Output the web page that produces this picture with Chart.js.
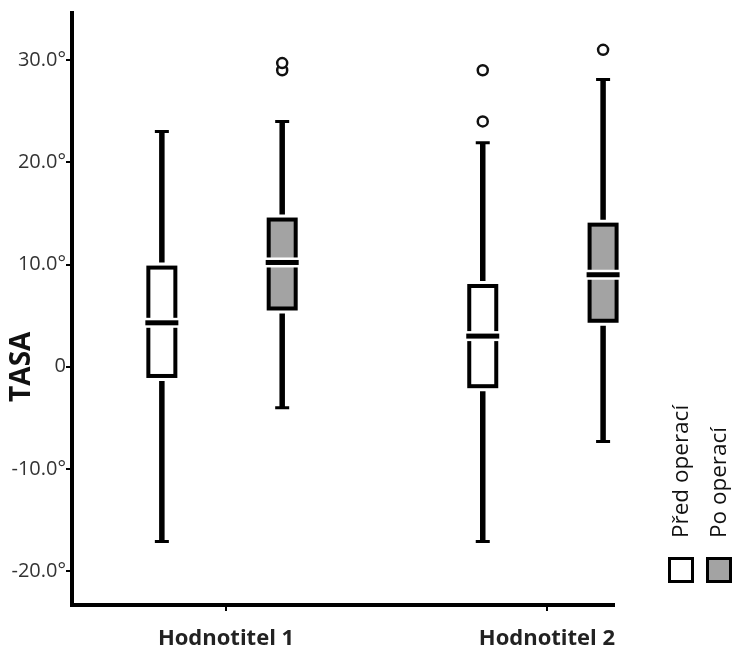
<!DOCTYPE html>
<html><head><meta charset="utf-8">
<script src="https://cdn.jsdelivr.net/npm/chart.js@4/dist/chart.umd.min.js"></script>
<style>html,body{margin:0;padding:0;background:#fff;} canvas{display:block;}</style>
</head><body>
<canvas id="c" width="736" height="649"></canvas>
<script>
// ---- data ----
const categories = ['Hodnotitel 1', 'Hodnotitel 2'];
const seriesNames = ['Před operací', 'Po operací'];
const predWhiskerLow  = [-17.1, -17.1];
const predQ1          = [-0.9, -1.9];
const predMedian      = [4.3, 3.0];
const predQ3          = [9.7, 7.9];
const predWhiskerHigh = [23.0, 21.9];
const predOutliers    = [[], [24.0, 29.0]];
const poWhiskerLow    = [-4.0, -7.3];
const poQ1            = [5.7, 4.5];
const poMedian        = [10.2, 9.0];
const poQ3            = [14.4, 13.9];
const poWhiskerHigh   = [24.0, 28.1];
const poOutliers      = [[29.0, 29.7], [31.0]];
const yTickValues = [-20, -10, 0, 10, 20, 30];
const yTickLabels = ['-20.0°', '-10.0°', '0', '10.0°', '20.0°', '30.0°'];
const yAxisTitle = 'TASA';

// ---- styles ----
const FONT = 'Open Sans';
const series = [
  {name: seriesNames[0], low: predWhiskerLow, q1: predQ1, med: predMedian, q3: predQ3, high: predWhiskerHigh, out: predOutliers, fill: '#ffffff', offset: -0.2},
  {name: seriesNames[1], low: poWhiskerLow, q1: poQ1, med: poMedian, q3: poQ3, high: poWhiskerHigh, out: poOutliers, fill: '#a3a3a3', offset: 0.175}
];

const outlierData = [];
series.forEach(s => s.out.forEach((arr, i) => arr.forEach(v => outlierData.push({x: i + 1 + s.offset, y: v}))));

const boxPlugin = {
  id: 'boxes',
  beforeDatasetsDraw(chart) {
    const {ctx, scales: {x, y}} = chart;
    const hw = 13.5;
    series.forEach(s => {
      categories.forEach((c, i) => {
        const cx = x.getPixelForValue(i + 1 + s.offset);
        const yl = y.getPixelForValue(s.low[i]);
        const y1 = y.getPixelForValue(s.q1[i]);
        const ym = y.getPixelForValue(s.med[i]);
        const y3 = y.getPixelForValue(s.q3[i]);
        const yh = y.getPixelForValue(s.high[i]);
        ctx.save();
        ctx.strokeStyle = '#000';
        ctx.lineCap = 'butt';
        ctx.lineWidth = 5.5;
        ctx.beginPath();
        ctx.moveTo(cx, yh); ctx.lineTo(cx, y3 - 5);
        ctx.moveTo(cx, y1 + 5); ctx.lineTo(cx, yl);
        ctx.stroke();
        ctx.lineWidth = 3;
        ctx.beginPath();
        ctx.moveTo(cx - 7, yh); ctx.lineTo(cx + 7, yh);
        ctx.moveTo(cx - 7, yl); ctx.lineTo(cx + 7, yl);
        ctx.stroke();
        ctx.fillStyle = s.fill;
        ctx.fillRect(cx - hw, y3, 2 * hw, y1 - y3);
        ctx.lineWidth = 4;
        ctx.strokeRect(cx - hw, y3, 2 * hw, y1 - y3);
        ctx.fillStyle = '#fff';
        ctx.fillRect(cx - hw - 4, ym - 5, 2 * hw + 8, 10);
        ctx.fillStyle = '#000';
        ctx.fillRect(cx - hw - 3, ym - 2.5, 2 * hw + 6, 5);
        ctx.restore();
      });
    });
  }
};

const textPlugin = {
  id: 'texts',
  afterDraw(chart) {
    const ctx = chart.ctx;
    const y = chart.scales.y;
    // y axis title, centred on the zero line as in the original
    ctx.save();
    ctx.translate(22, y.getPixelForValue(0));
    ctx.rotate(-Math.PI / 2);
    ctx.font = 'bold 28px "' + FONT + '"';
    ctx.fillStyle = '#111';
    ctx.textAlign = 'center';
    ctx.textBaseline = 'middle';
    ctx.fillText(yAxisTitle, 0, 0);
    ctx.restore();
    // vertical legend
    series.forEach((s, k) => {
      const bx = 669.5 + k * 38;
      ctx.save();
      ctx.fillStyle = s.fill;
      ctx.fillRect(bx, 558.5, 23, 23);
      ctx.strokeStyle = '#000';
      ctx.lineWidth = 3;
      ctx.strokeRect(bx, 558.5, 23, 23);
      ctx.translate(bx + 12.5, 538);
      ctx.rotate(-Math.PI / 2);
      ctx.font = '500 22.5px "' + FONT + '"';
      ctx.fillStyle = '#111';
      ctx.textAlign = 'left';
      ctx.textBaseline = 'middle';
      ctx.fillText(s.name, 0, 0);
      ctx.restore();
    });
  }
};

const gridStyle = {display: true, drawOnChartArea: false, drawTicks: true, tickLength: 6, color: '#000', lineWidth: 2};
const borderStyle = {display: true, color: '#000', width: 4};

new Chart(document.getElementById('c'), {
  type: 'scatter',
  data: {
    datasets: [{
      label: 'outliers',
      data: outlierData,
      pointRadius: 5,
      pointBorderWidth: 2.5,
      pointBackgroundColor: '#fff',
      pointBorderColor: '#111',
      pointHoverRadius: 5
    }]
  },
  options: {
    responsive: false,
    animation: false,
    layout: {padding: {top: 13, right: 122, left: 0, bottom: 0}},
    plugins: {legend: {display: false}, tooltip: {enabled: false}},
    scales: {
      x: {
        type: 'linear', min: 0.52, max: 2.209,
        afterBuildTicks: s => { s.ticks = categories.map((c, i) => ({value: i + 1})); },
        ticks: {callback: v => categories[Math.round(v) - 1], font: {family: FONT, size: 22, weight: 'bold'}, color: '#222', padding: 15, autoSkip: false, maxRotation: 0},
        grid: gridStyle,
        border: borderStyle,
        afterFit: s => { s.height = 44; }
      },
      y: {
        min: -23.3, max: 34.6,
        afterBuildTicks: s => { s.ticks = yTickValues.map(v => ({value: v})); },
        ticks: {callback: v => yTickLabels[yTickValues.indexOf(v)], font: {family: FONT, size: 20}, color: '#333', padding: 0, autoSkip: false},
        grid: gridStyle,
        border: borderStyle,
        title: {display: false},
        afterFit: s => { s.width = 72; }
      }
    }
  },
  plugins: [boxPlugin, textPlugin]
});
</script>
</body></html>
